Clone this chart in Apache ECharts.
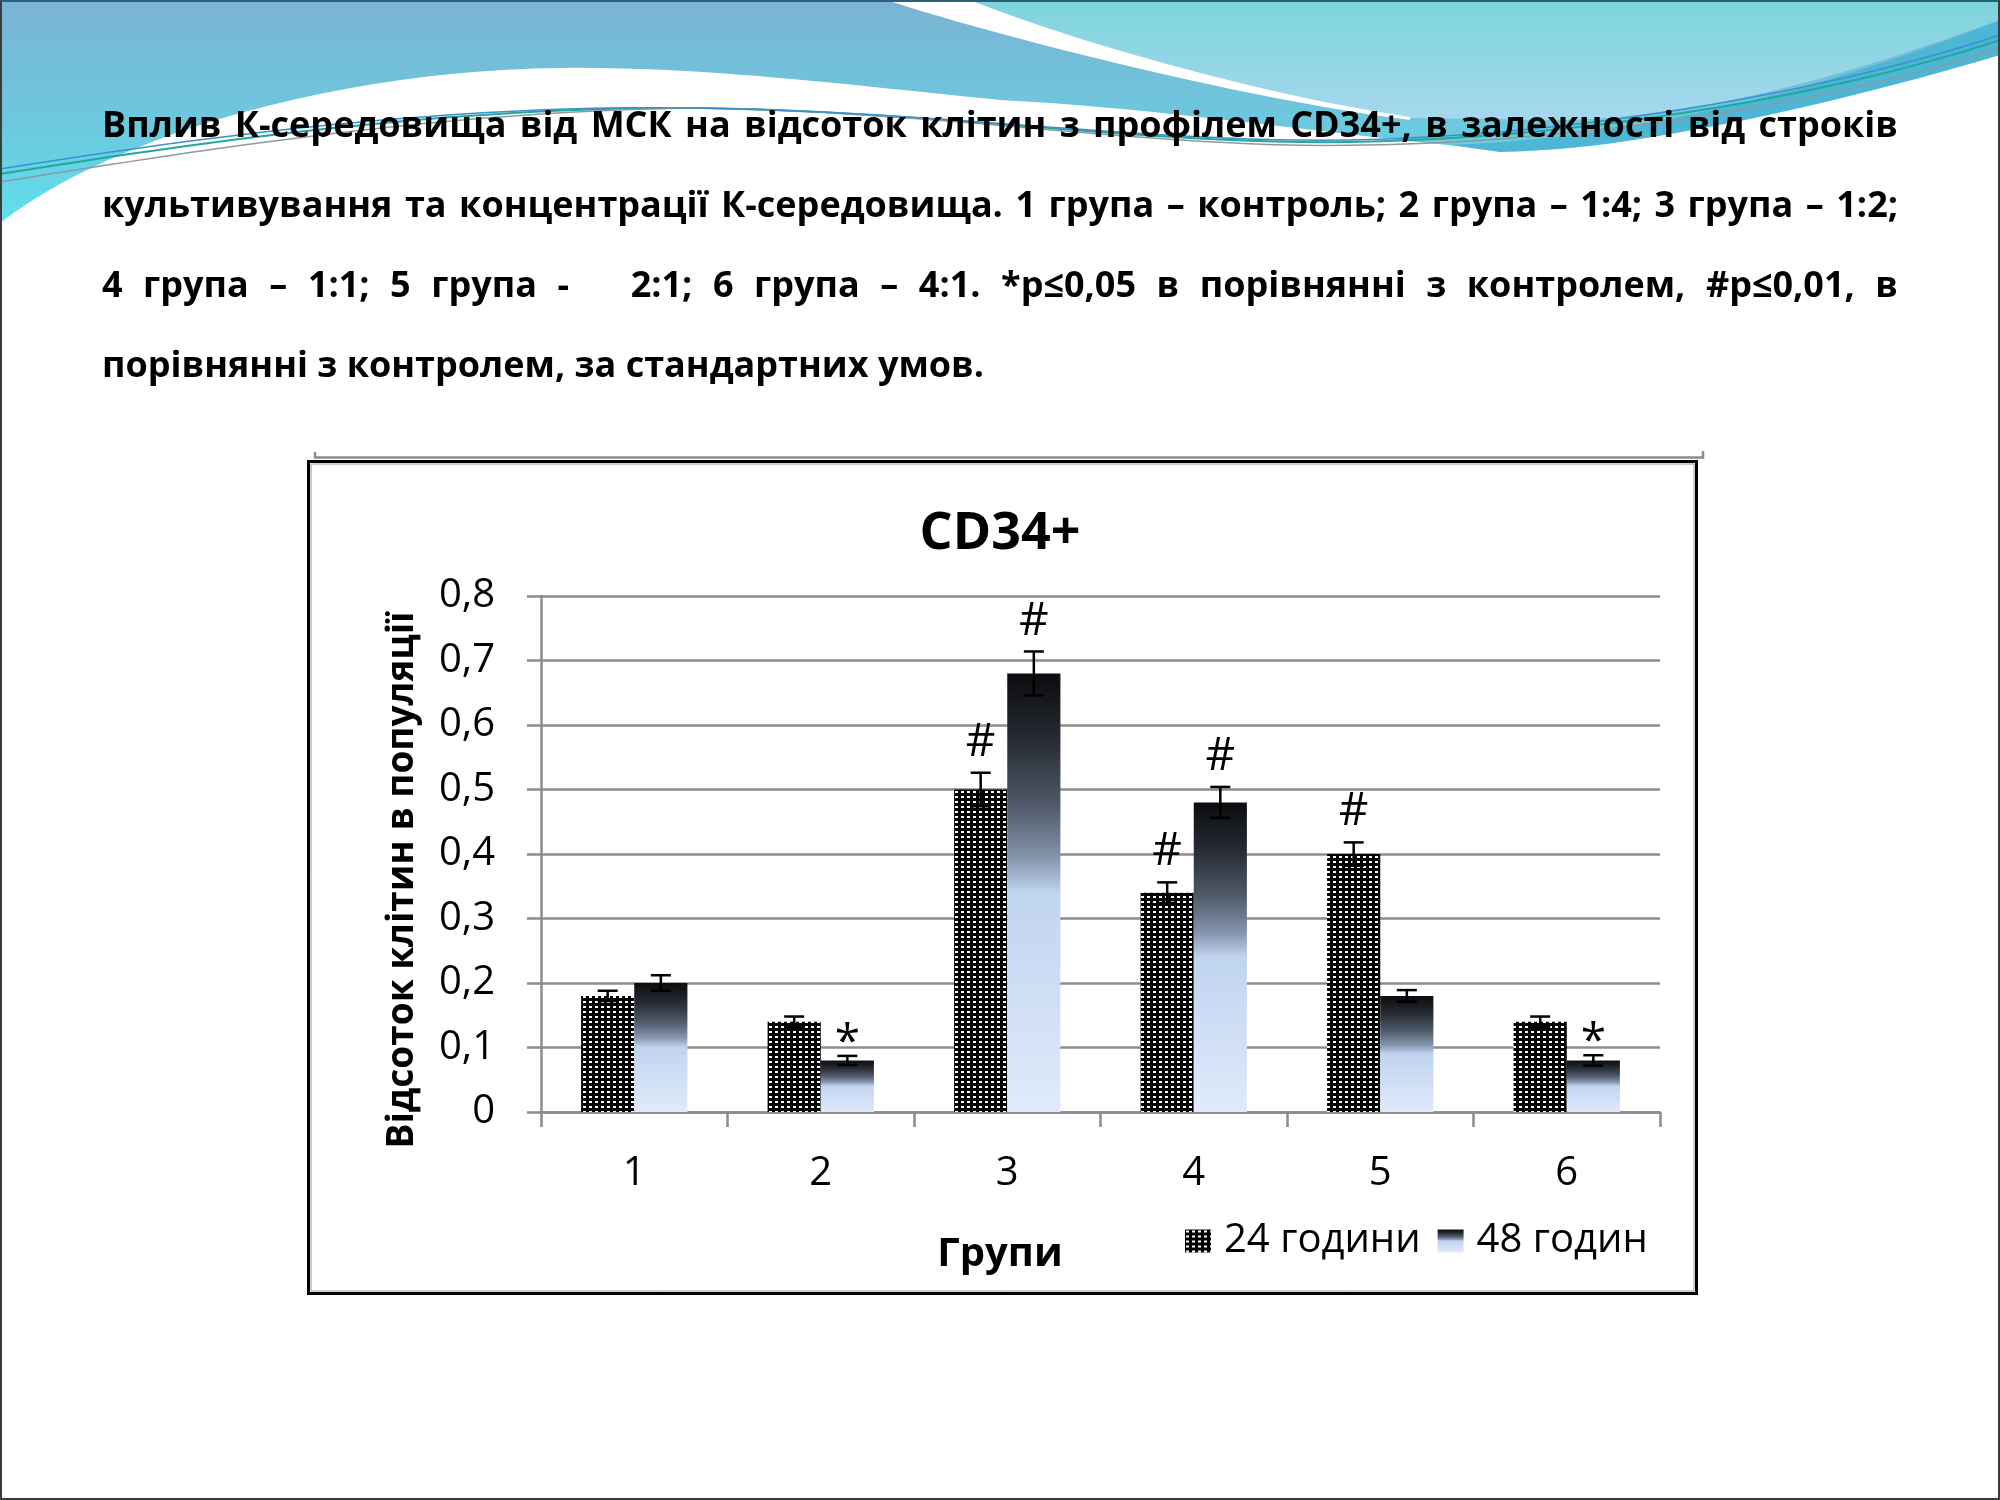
<!DOCTYPE html>
<html>
<head>
<meta charset="utf-8">
<script src="https://cdn.jsdelivr.net/npm/echarts@6.0.0/dist/echarts.min.js"></script>
<style>
html,body{margin:0;padding:0;background:#fff;}
#page{position:relative;width:2000px;height:1500px;overflow:hidden;background:#fff;}
#chart{position:absolute;left:0;top:0;width:2000px;height:1500px;}
#frame{position:absolute;left:0;top:0;width:2000px;height:1500px;box-sizing:border-box;border:2px solid #3c3c3c;border-top-color:#2b5f7c;pointer-events:none;}
.pline{position:absolute;left:102px;width:1796px;font-family:'Open Sans',sans-serif;font-weight:700;font-size:36px;line-height:36px;color:#000;text-align:justify;text-align-last:justify;}
.pline.last{text-align:left;text-align-last:left;}
</style>
</head>
<body>
<div id="page">
  <div id="chart"></div>
  <div id="para"></div>
  <div id="frame"></div>
</div>
<script>
// ---------------- data ----------------
const paragraphLines = [
  'Вплив К-середовища від МСК на відсоток клітин з профілем CD34+, в залежності від строків',
  'культивування та концентрації К-середовища. 1 група – контроль; 2 група – 1:4; 3 група – 1:2;',
  '4 група – 1:1; 5 група -\u00a0\u00a0 2:1; 6 група – 4:1. *p≤0,05 в порівнянні з контролем, #p≤0,01, в',
  'порівнянні з контролем, за стандартних умов.'
];
const chartTitle = 'CD34+';
const yAxisTitle = 'Відсоток клітин в популяції';
const xAxisTitle = 'Групи';
const categories = ['1', '2', '3', '4', '5', '6'];
const seriesNames = ['24 години', '48 годин'];
const hours24 = [0.18, 0.14, 0.50, 0.34, 0.40, 0.14];
const hours48 = [0.20, 0.08, 0.68, 0.48, 0.18, 0.08];
const err24 = [0.008, 0.008, 0.026, 0.016, 0.018, 0.008];
const err48 = [0.012, 0.007, 0.034, 0.024, 0.009, 0.008];
const marks24 = ['', '', '#', '#', '#', ''];
const marks48 = ['', '*', '#', '#', '', '*'];
const yTickLabels = ['0', '0,1', '0,2', '0,3', '0,4', '0,5', '0,6', '0,7', '0,8'];

// ---------------- paragraph ----------------
const para = document.getElementById('para');
paragraphLines.forEach((t, i) => {
  const d = document.createElement('div');
  d.className = 'pline' + (i === paragraphLines.length - 1 ? ' last' : '');
  d.style.top = (106 + i * 80) + 'px';
  d.textContent = t;
  para.appendChild(d);
});

// ---------------- styles ----------------
const FONT = "'Open Sans', sans-serif";
const CAT_GAP = 0.43;

const pat = document.createElement('canvas');
pat.width = 6; pat.height = 5;
const pc = pat.getContext('2d');
pc.fillStyle = '#000'; pc.fillRect(0, 0, 6, 5);
pc.fillStyle = '#fff'; pc.fillRect(1, 1, 3, 2);

const grad48 = new echarts.graphic.LinearGradient(0, 0, 0, 1, [
  {offset: 0, color: '#0b0c0e'},
  {offset: 0.15, color: '#262b33'},
  {offset: 0.3, color: '#4f5968'},
  {offset: 0.42, color: '#8494ab'},
  {offset: 0.5, color: '#c0d4f0'},
  {offset: 1, color: '#e0eafa'}
]);

// ---------------- background decoration ----------------
function bez(p0, p1, p2, p3, n) {
  const pts = [];
  for (let i = 0; i <= n; i++) {
    const t = i / n, u = 1 - t;
    pts.push([
      u*u*u*p0[0] + 3*u*u*t*p1[0] + 3*u*t*t*p2[0] + t*t*t*p3[0],
      u*u*u*p0[1] + 3*u*u*t*p1[1] + 3*u*t*t*p2[1] + t*t*t*p3[1]
    ]);
  }
  return pts;
}
const mainPts = [[0,0],[2000,0]].concat(
  bez([2000,50],[1850,95],[1640,150],[1530,150],24),
  bez([1530,150],[1430,150],[1200,110],[1000,100],24),
  bez([1000,100],[850,85],[700,66],[560,68],24),
  bez([560,68],[350,70],[120,130],[0,223],24));
const wedgePts = [].concat(
  bez([1450,145],[1650,138],[1850,80],[2000,20],24),
  [[2000,55]],
  bez([2000,55],[1850,100],[1640,150],[1500,152],24));
const lightPts = [[970,0],[2000,0],[2000,20]].concat(
  bez([2000,20],[1850,75],[1700,118],[1560,120],24),
  [[1410,118]],
  bez([1410,118],[1260,95],[1070,40],[970,0],24));
const bandPts = [].concat(
  bez([886,0],[1010,40],[1250,100],[1410,120],24),
  bez([1410,117],[1260,95],[1070,40],[970,0],24));
function swoosh(dy) {
  return [].concat(
    bez([0,174+dy],[200,142+dy],[450,106+dy*0.5],[700,108],24),
    bez([700,108],[950,112],[1150,145+dy*0.4],[1350,142+dy*0.4],24),
    bez([1350,142+dy*0.4],[1600,138+dy*0.6],[1850,90+dy],[2000,40+dy],24));
}

const graphics = [
  {type:'polygon', z:-10, silent:true, shape:{points:mainPts},
   style:{fill:new echarts.graphic.LinearGradient(0,0,0,1,[{offset:0,color:'#7bb3d3'},{offset:0.55,color:'#6cc8de'},{offset:1,color:'#5fe0ee'}])}},
  {type:'polygon', z:-9, silent:true, shape:{points:wedgePts}, style:{fill:'#4db6d5'}},
  {type:'polygon', z:-8, silent:true, shape:{points:lightPts},
   style:{fill:new echarts.graphic.LinearGradient(0,0,0,1,[{offset:0,color:'#7dd4db'},{offset:1,color:'#a6d8ee'}])}},
  {type:'polygon', z:-7, silent:true, shape:{points:bandPts}, style:{fill:'#ffffff'}},
  {type:'polyline', z:-6, silent:true, shape:{points:swoosh(0)}, style:{stroke:'#22a89a', lineWidth:2, fill:null}},
  {type:'polyline', z:-6, silent:true, shape:{points:swoosh(8)}, style:{stroke:'#8a9aa0', lineWidth:1.5, fill:null}},
  {type:'polyline', z:-6, silent:true, shape:{points:swoosh(-5)}, style:{stroke:'#3a8fd0', lineWidth:1.5, fill:null}},
  // chart frame
  {type:'polyline', z:-5, silent:true, shape:{points:[[315,452],[315,457.5],[1703,457.5],[1703,451]]}, style:{stroke:'#8c8c8c', lineWidth:2.5, fill:null}},
  {type:'rect', z:-5, silent:true, shape:{x:308.5, y:461.5, width:1388, height:832}, style:{fill:'#fff', stroke:'#000', lineWidth:3}},
  {type:'rect', z:-4, silent:true, shape:{x:311, y:464, width:1383, height:827}, style:{fill:null, stroke:'#9a9a9a', lineWidth:1}}
];

// ---------------- error bars ----------------
function errRenderer(sign, marks) {
  return function (params, api) {
    const idx = api.value(0), val = api.value(1), err = api.value(2);
    const c = api.coord([idx, val]);
    const band = api.size([1, 0])[0];
    const bw = band * (1 - CAT_GAP) / 2;
    const x = c[0] + sign * bw / 2;
    const yt = api.coord([idx, val + err])[1];
    const yb = api.coord([idx, val - err])[1];
    const half = 10;
    const children = [
      {type:'line', shape:{x1:x, y1:yt, x2:x, y2:yb}, style:{stroke:'#000', lineWidth:2.5}},
      {type:'line', shape:{x1:x-half, y1:yt, x2:x+half, y2:yt}, style:{stroke:'#000', lineWidth:2.5}},
      {type:'line', shape:{x1:x-half, y1:yb, x2:x+half, y2:yb}, style:{stroke:'#000', lineWidth:2.5}}
    ];
    const m = marks[params.dataIndex];
    if (m) {
      children.push({type:'text', style:{text:m, x:x, y: yt - (m === '*' ? 12 : 30),
        align:'center', verticalAlign:'middle', fontFamily:FONT, fontSize:46, fill:'#000'}});
    }
    return {type:'group', children};
  };
}

const option = {
  animation: false,
  backgroundColor: 'transparent',
  graphic: graphics,
  title: {
    text: chartTitle, left: 'center', top: 503,
    textStyle: {fontFamily: FONT, fontWeight: 'bold', fontSize: 52, lineHeight: 52, color: '#000'}
  },
  legend: {
    data: seriesNames, left: 1180, top: 1216, itemWidth: 26, itemHeight: 23, itemGap: 17,
    selectedMode: false, icon: 'rect',
    textStyle: {fontFamily: FONT, fontSize: 40, lineHeight: 40, color: '#000', padding: [0, 0, 0, 8]}
  },
  grid: {left: 541, top: 596, width: 1119, height: 516, containLabel: false},
  xAxis: {
    type: 'category', data: categories, z: 3,
    name: xAxisTitle, nameLocation: 'middle', nameGap: 123,
    nameTextStyle: {fontFamily: FONT, fontWeight: 'bold', fontSize: 40, lineHeight: 40, color: '#000', padding: [0, 201, 0, 0]},
    axisLine: {lineStyle: {color: '#8c8c8c', width: 2.5}},
    axisTick: {show: true, length: 15, lineStyle: {color: '#8c8c8c', width: 2.5}},
    axisLabel: {margin: 42, fontFamily: FONT, fontSize: 40, lineHeight: 40, color: '#000'}
  },
  yAxis: {
    type: 'value', min: 0, max: 0.8, interval: 0.1, z: 3,
    name: yAxisTitle, nameLocation: 'middle', nameGap: 120, nameRotate: 90,
    nameTextStyle: {fontFamily: FONT, fontWeight: 'bold', fontSize: 37, lineHeight: 37, color: '#000', padding: [0, 52, 0, 0]},
    axisLine: {show: true, lineStyle: {color: '#8c8c8c', width: 2.5}},
    axisTick: {show: true, length: 14, lineStyle: {color: '#8c8c8c', width: 2.5}},
    splitLine: {show: true, lineStyle: {color: '#8c8c8c', width: 2.5}},
    axisLabel: {margin: 46, fontFamily: FONT, fontSize: 40, color: '#000',
      formatter: v => yTickLabels[Math.round(v * 10)]}
  },
  series: [
    {name: seriesNames[0], type: 'bar', z: 4, data: hours24, barGap: '0%', barCategoryGap: (CAT_GAP * 100) + '%',
     itemStyle: {color: {image: pat, repeat: 'repeat'}, borderWidth: 0}},
    {name: seriesNames[1], type: 'bar', z: 4, data: hours48, barGap: '0%', barCategoryGap: (CAT_GAP * 100) + '%',
     itemStyle: {color: grad48, borderWidth: 0}},
    {name: 'err24', type: 'custom', z: 5, renderItem: errRenderer(-1, marks24),
     data: hours24.map((v, i) => [i, v, err24[i]]), encode: {x: 0, y: 1}},
    {name: 'err48', type: 'custom', z: 5, renderItem: errRenderer(1, marks48),
     data: hours48.map((v, i) => [i, v, err48[i]]), encode: {x: 0, y: 1}}
  ]
};

const chart = echarts.init(document.getElementById('chart'), null, {width: 2000, height: 1500});
chart.setOption(option);
</script>
</body>
</html>
